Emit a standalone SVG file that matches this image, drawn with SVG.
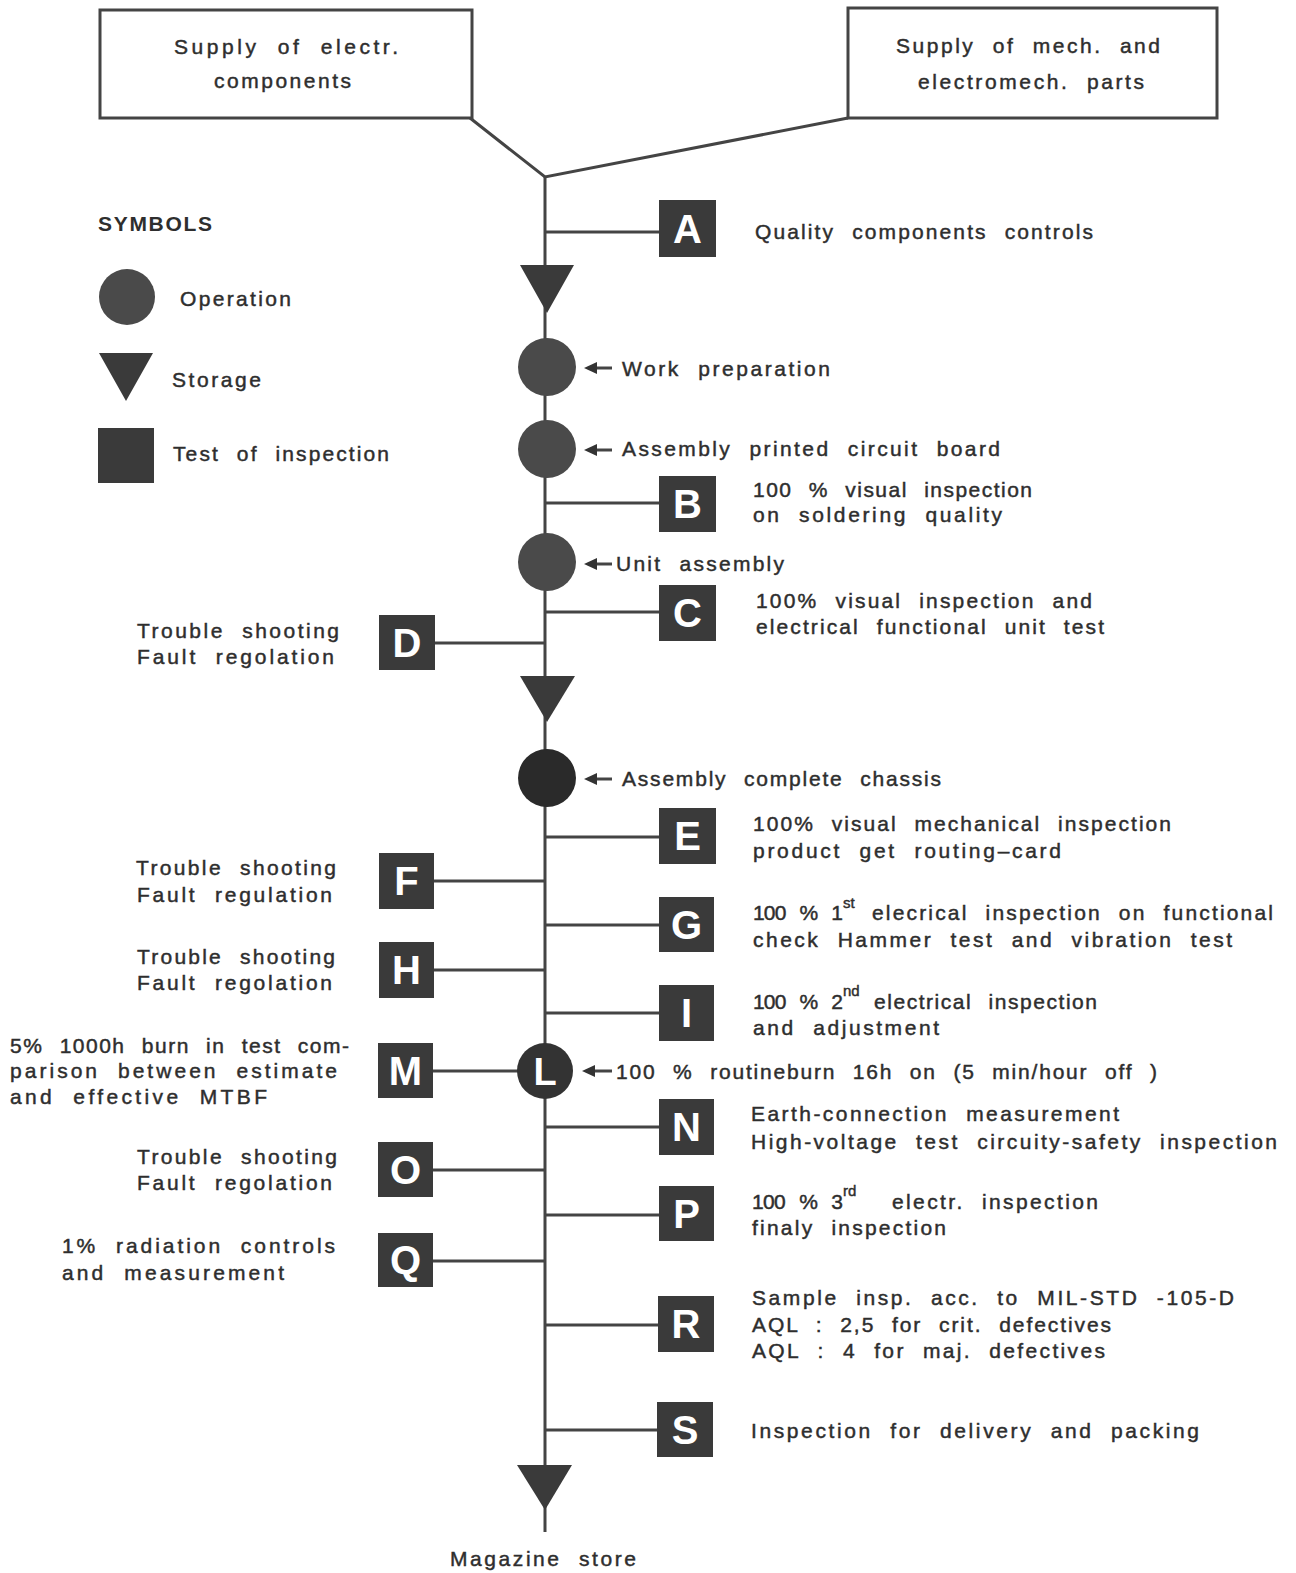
<svg xmlns="http://www.w3.org/2000/svg" width="1296" height="1573" viewBox="0 0 1296 1573">
<style>
text{font-family:"Liberation Sans",Arial,sans-serif;font-size:21px;fill:#2e2e2e;stroke:#2e2e2e;stroke-width:0.45px;word-spacing:9px}
.lbl{font-size:40px;font-weight:bold;fill:#fff;stroke:none;text-anchor:middle;word-spacing:0}
.sup{font-size:15px}
.sq{fill:#3a3a3a}
.op{fill:#4a4a4a}
.st{fill:#3a3a3a}
.ln{stroke:#444;stroke-width:3;fill:none}
.box{fill:#fff;stroke:#444;stroke-width:3}
.arr{fill:#333}
</style>
<rect width="1296" height="1573" fill="#fff"/>

<g id="connectors">
<path class="ln" d="M470,118 L545,177 L848,118"/>
<line class="ln" x1="545" y1="177" x2="545" y2="1532"/>
<line class="ln" x1="545" y1="232" x2="660" y2="232"/>
<line class="ln" x1="545" y1="503" x2="660" y2="503"/>
<line class="ln" x1="545" y1="612" x2="660" y2="612"/>
<line class="ln" x1="434" y1="643" x2="545" y2="643"/>
<line class="ln" x1="545" y1="837" x2="660" y2="837"/>
<line class="ln" x1="433" y1="881" x2="545" y2="881"/>
<line class="ln" x1="545" y1="925" x2="660" y2="925"/>
<line class="ln" x1="433" y1="970" x2="545" y2="970"/>
<line class="ln" x1="545" y1="1013" x2="660" y2="1013"/>
<line class="ln" x1="432" y1="1071" x2="545" y2="1071"/>
<line class="ln" x1="545" y1="1127" x2="660" y2="1127"/>
<line class="ln" x1="432" y1="1170" x2="545" y2="1170"/>
<line class="ln" x1="545" y1="1215" x2="660" y2="1215"/>
<line class="ln" x1="432" y1="1261" x2="545" y2="1261"/>
<line class="ln" x1="545" y1="1325" x2="659" y2="1325"/>
<line class="ln" x1="545" y1="1430" x2="658" y2="1430"/>
<g class="arr">
<line class="ln" x1="612" y1="368" x2="594" y2="368"/><polygon points="584,368 597,362 597,374"/>
<line class="ln" x1="612" y1="450" x2="594" y2="450"/><polygon points="584,450 597,444 597,456"/>
<line class="ln" x1="612" y1="564" x2="594" y2="564"/><polygon points="584,564 597,558 597,570"/>
<line class="ln" x1="612" y1="779" x2="594" y2="779"/><polygon points="584,779 597,773 597,785"/>
<line class="ln" x1="612" y1="1071" x2="592" y2="1071"/><polygon points="582,1071 595,1065 595,1077"/>
</g>
</g>

<g id="supply-electr">
<rect class="box" x="100" y="10" width="372" height="108"/>
<text x="174" y="54" textLength="224" lengthAdjust="spacing">Supply of electr.</text>
<text x="214" y="88" textLength="137" lengthAdjust="spacing">components</text>
</g>
<g id="supply-mech">
<rect class="box" x="848" y="8" width="369" height="110"/>
<text x="896" y="53" textLength="264" lengthAdjust="spacing">Supply of mech. and</text>
<text x="918" y="89" textLength="226" lengthAdjust="spacing">electromech. parts</text>
</g>

<g id="legend">
<text x="98" y="231" textLength="114" lengthAdjust="spacing" style="font-weight:bold;stroke:none">SYMBOLS</text>
<circle class="op" cx="127" cy="297" r="28"/>
<text x="180" y="306" textLength="111" lengthAdjust="spacing">Operation</text>
<polygon class="st" points="99,353 153,353 126,401"/>
<text x="172" y="387" textLength="89" lengthAdjust="spacing">Storage</text>
<rect class="sq" x="98" y="428" width="56" height="55"/>
<text x="173" y="461" textLength="216" lengthAdjust="spacing">Test of inspection</text>
</g>

<g id="A"><rect class="sq" x="659" y="200" width="57" height="57"/><text class="lbl" x="687.5" y="243">A</text>
<text x="755" y="239" textLength="338" lengthAdjust="spacing">Quality components controls</text></g>

<g id="storage1"><polygon class="st" points="520,265 574,265 547,313"/></g>

<g id="work-prep"><circle class="op" cx="547" cy="367" r="29"/>
<text x="622" y="376" textLength="208" lengthAdjust="spacing">Work preparation</text></g>

<g id="assembly-pcb"><circle class="op" cx="547" cy="449" r="29"/>
<text x="622" y="456" textLength="378" lengthAdjust="spacing">Assembly printed circuit board</text></g>

<g id="B"><rect class="sq" x="659" y="476" width="57" height="56"/><text class="lbl" x="687.5" y="518">B</text>
<text x="753" y="497" textLength="279" lengthAdjust="spacing">100 % visual inspection</text>
<text x="753" y="522" textLength="249" lengthAdjust="spacing">on soldering quality</text></g>

<g id="unit-assembly"><circle class="op" cx="547" cy="562" r="29"/>
<text x="616" y="571" textLength="168" lengthAdjust="spacing">Unit assembly</text></g>

<g id="C"><rect class="sq" x="659" y="585" width="57" height="56"/><text class="lbl" x="687.5" y="627">C</text>
<text x="756" y="608" textLength="336" lengthAdjust="spacing">100% visual inspection and</text>
<text x="756" y="634" textLength="348" lengthAdjust="spacing">electrical functional unit test</text></g>

<g id="D"><rect class="sq" x="379" y="615" width="56" height="55"/><text class="lbl" x="407" y="657">D</text>
<text x="137" y="638" textLength="202" lengthAdjust="spacing">Trouble shooting</text>
<text x="137" y="664" textLength="197" lengthAdjust="spacing">Fault regolation</text></g>

<g id="storage2"><polygon class="st" points="520,676 575,676 547,722"/></g>

<g id="assembly-chassis"><circle cx="547" cy="778" r="29" fill="#2a2a2a"/>
<text x="622" y="786" textLength="319" lengthAdjust="spacing">Assembly complete chassis</text></g>

<g id="E"><rect class="sq" x="659" y="808" width="57" height="56"/><text class="lbl" x="687.5" y="850">E</text>
<text x="753" y="831" textLength="418" lengthAdjust="spacing">100% visual mechanical inspection</text>
<text x="753" y="858" textLength="308" lengthAdjust="spacing">product get routing–card</text></g>

<g id="F"><rect class="sq" x="379" y="853" width="55" height="56"/><text class="lbl" x="406.5" y="895">F</text>
<text x="136" y="875" textLength="200" lengthAdjust="spacing">Trouble shooting</text>
<text x="137" y="902" textLength="195" lengthAdjust="spacing">Fault regulation</text></g>

<g id="G"><rect class="sq" x="659" y="897" width="55" height="55"/><text class="lbl" x="686.5" y="939">G</text>
<text x="753" y="920" textLength="90" lengthAdjust="spacing">100 % 1</text>
<text class="sup" x="843" y="908">st</text>
<text x="872" y="920" textLength="401" lengthAdjust="spacing">elecrical inspection on functional</text>
<text x="753" y="947" textLength="479" lengthAdjust="spacing">check Hammer test and vibration test</text></g>

<g id="H"><rect class="sq" x="379" y="942" width="55" height="56"/><text class="lbl" x="406.5" y="984">H</text>
<text x="137" y="964" textLength="198" lengthAdjust="spacing">Trouble shooting</text>
<text x="137" y="990" textLength="195" lengthAdjust="spacing">Fault regolation</text></g>

<g id="I"><rect class="sq" x="659" y="985" width="55" height="56"/><text class="lbl" x="686.5" y="1027">I</text>
<text x="753" y="1009" textLength="90" lengthAdjust="spacing">100 % 2</text>
<text class="sup" x="843" y="996">nd</text>
<text x="874" y="1009" textLength="223" lengthAdjust="spacing">electrical inspection</text>
<text x="753" y="1035" textLength="186" lengthAdjust="spacing">and adjustment</text></g>

<g id="M"><rect class="sq" x="378" y="1043" width="55" height="55"/><text class="lbl" x="405.5" y="1085">M</text>
<text x="10" y="1053" textLength="339" lengthAdjust="spacing">5% 1000h burn in test com-</text>
<text x="10" y="1078" textLength="327" lengthAdjust="spacing">parison between estimate</text>
<text x="10" y="1104" textLength="257" lengthAdjust="spacing">and effective MTBF</text></g>

<g id="L"><circle cx="545" cy="1071" r="28" fill="#333"/><text class="lbl" x="545" y="1085" style="font-size:38px">L</text>
<text x="616" y="1079" textLength="541" lengthAdjust="spacing">100 % routineburn 16h on (5 min/hour off )</text></g>

<g id="N"><rect class="sq" x="659" y="1099" width="55" height="56"/><text class="lbl" x="686.5" y="1141">N</text>
<text x="751" y="1121" textLength="368" lengthAdjust="spacing">Earth-connection measurement</text>
<text x="751" y="1149" textLength="526" lengthAdjust="spacing">High-voltage test circuity-safety inspection</text></g>

<g id="O"><rect class="sq" x="378" y="1142" width="55" height="55"/><text class="lbl" x="405.5" y="1184">O</text>
<text x="137" y="1164" textLength="200" lengthAdjust="spacing">Trouble shooting</text>
<text x="137" y="1190" textLength="195" lengthAdjust="spacing">Fault regolation</text></g>

<g id="P"><rect class="sq" x="659" y="1186" width="55" height="55"/><text class="lbl" x="686.5" y="1228">P</text>
<text x="752" y="1209" textLength="91" lengthAdjust="spacing">100 % 3</text>
<text class="sup" x="843" y="1196">rd</text>
<text x="892" y="1209" textLength="206" lengthAdjust="spacing">electr. inspection</text>
<text x="752" y="1235" textLength="194" lengthAdjust="spacing">finaly inspection</text></g>

<g id="Q"><rect class="sq" x="378" y="1233" width="55" height="54"/><text class="lbl" x="405.5" y="1274">Q</text>
<text x="62" y="1253" textLength="273" lengthAdjust="spacing">1% radiation controls</text>
<text x="62" y="1280" textLength="222" lengthAdjust="spacing">and measurement</text></g>

<g id="R"><rect class="sq" x="658" y="1296" width="56" height="56"/><text class="lbl" x="686" y="1338">R</text>
<text x="752" y="1305" textLength="482" lengthAdjust="spacing">Sample insp. acc. to MIL-STD -105-D</text>
<text x="752" y="1332" textLength="359" lengthAdjust="spacing">AQL : 2,5 for crit. defectives</text>
<text x="752" y="1358" textLength="353" lengthAdjust="spacing">AQL : 4 for maj. defectives</text></g>

<g id="S"><rect class="sq" x="657" y="1402" width="56" height="55"/><text class="lbl" x="685" y="1444">S</text>
<text x="751" y="1438" textLength="448" lengthAdjust="spacing">Inspection for delivery and packing</text></g>

<g id="storage3"><polygon class="st" points="517,1465 572,1465 545,1510"/></g>

<g id="magazine"><text x="450" y="1566" textLength="186" lengthAdjust="spacing">Magazine store</text></g>
</svg>
